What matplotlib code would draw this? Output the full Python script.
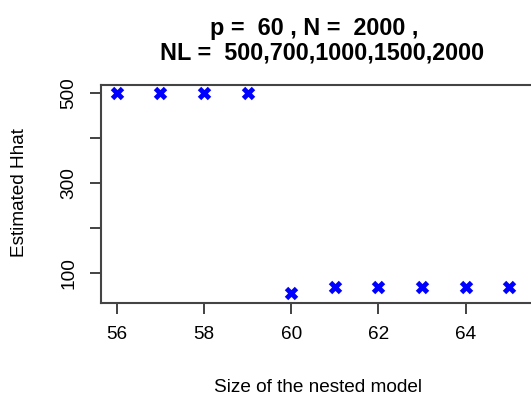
import matplotlib
matplotlib.use("Agg")
import matplotlib.pyplot as plt

plt.rcParams['font.family'] = ['Liberation Sans', 'DejaVu Sans']

# nested model size vs estimated Hhat
model_size = [56, 57, 58, 59, 60, 61, 62, 63, 64, 65]
hhat = [500, 500, 500, 500, 57, 69, 69, 69, 69, 69]

x_ticks = [56, 58, 60, 62, 64]
y_ticks = [100, 200, 300, 400, 500]
y_labels = ["100", "", "300", "", "500"]

fig = plt.figure(figsize=(5.31, 3.96), dpi=100)
ax = fig.add_axes([0.1896, 0.2356, 0.882, 0.5503])

ax.plot(model_size, hhat, linestyle='none', marker='x', color='#0000FF',
        markersize=7.5, markeredgewidth=3.5)

ax.set_xlim(55.63, 66.37)
ax.set_ylim(35, 519)
ax.set_xticks(x_ticks)
ax.set_yticks(y_ticks)
ax.set_yticklabels(y_labels, rotation=90, va='center')
ax.tick_params(axis='both', length=8, width=1.2, labelsize=13.7, color='#222222')
ax.tick_params(axis='x', pad=9)
ax.tick_params(axis='y', pad=9)
for s in ax.spines.values():
    s.set_color('#444444')
    s.set_linewidth(1.5)

fig.text(0.5914, 0.9116, "p =  60 , N =  2000 ,", ha='center', va='baseline',
         fontsize=16.8, fontweight='bold')
fig.text(0.606, 0.8485, "NL =  500,700,1000,1500,2000", ha='center', va='baseline',
         fontsize=16.8, fontweight='bold')
fig.text(0.599, 0.0105, "Size of the nested model", ha='center', va='baseline',
         fontsize=13.7)
fig.text(0.0367, 0.5126, "Estimated Hhat", ha='center', va='center',
         rotation=90, fontsize=13.7)

fig.savefig("out.png", dpi=100)
